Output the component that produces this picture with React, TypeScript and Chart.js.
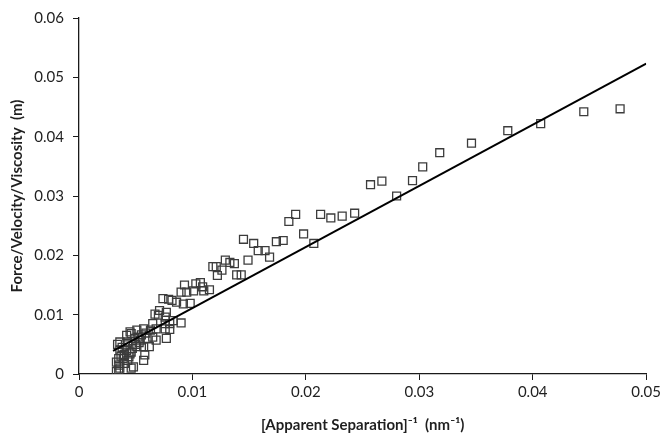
import React, { useEffect, useRef } from 'react';
import { Chart, registerables } from 'chart.js';

Chart.register(...registerables);

// [Apparent Separation]^-1 (nm^-1)
const sepX: number[] = [
  0.0477, 0.0445, 0.0407, 0.0378, 0.0346, 0.0318, 0.0303, 0.0294, 0.0280, 0.0267,
  0.0257, 0.0243, 0.0232, 0.0222, 0.0213,
  0.0191, 0.0185, 0.0198, 0.0207, 0.0180, 0.0174, 0.0145, 0.0154, 0.0158, 0.0164,
  0.0168, 0.0149, 0.0129, 0.0133, 0.0137, 0.0118, 0.0121, 0.0126, 0.0122, 0.0139,
  0.0143, 0.0107, 0.0103, 0.0093, 0.0109, 0.0101, 0.0115, 0.0110, 0.0095, 0.0090,
  0.0098, 0.0092,
  0.0074, 0.0079, 0.0082, 0.0086, 0.0071, 0.0077, 0.0076, 0.0067, 0.0070, 0.0090,
  0.0083, 0.0080, 0.0076, 0.0065, 0.0076, 0.0068, 0.0063, 0.0057, 0.0051, 0.0045,
  0.0080, 0.0077, 0.0065, 0.0052, 0.0068, 0.0042, 0.0046, 0.0060, 0.0054, 0.0043,
  0.0036, 0.0051, 0.0057, 0.0062, 0.0036, 0.0042, 0.0046, 0.0058, 0.0057, 0.0035,
  0.0039, 0.0043, 0.0048, 0.0046, 0.0035, 0.0040, 0.0035, 0.0033,
  0.0034, 0.0038, 0.0040, 0.0037, 0.0044, 0.0047, 0.0050, 0.0053, 0.0049, 0.0055,
  0.0059, 0.0033, 0.0036, 0.0041, 0.0045,
];

// Force/Velocity/Viscosity (m)
const forceY: number[] = [
  0.0447, 0.0442, 0.0422, 0.0410, 0.0389, 0.0373, 0.0349, 0.0326, 0.0300, 0.0325,
  0.0319, 0.0271, 0.0266, 0.0263, 0.0269,
  0.0269, 0.0257, 0.0236, 0.0220, 0.0225, 0.0223, 0.0227, 0.0220, 0.0208, 0.0208,
  0.0197, 0.0192, 0.0192, 0.0188, 0.0186, 0.0181, 0.0181, 0.0175, 0.0166, 0.0167,
  0.0167, 0.0154, 0.0152, 0.0150, 0.0147, 0.0140, 0.0142, 0.0140, 0.0138, 0.0138,
  0.0119, 0.0118,
  0.0127, 0.0126, 0.0124, 0.0121, 0.0107, 0.0104, 0.0096, 0.0101, 0.0099, 0.0086,
  0.0090, 0.0085, 0.0085, 0.0085, 0.0076, 0.0076, 0.0074, 0.0076, 0.0074, 0.0071,
  0.0075, 0.0060, 0.0062, 0.0062, 0.0057, 0.0065, 0.0068, 0.0060, 0.0057, 0.0054,
  0.0054, 0.0046, 0.0046, 0.0046, 0.0040, 0.0040, 0.0037, 0.0032, 0.0023, 0.0026,
  0.0026, 0.0023, 0.0012, 0.0010, 0.0015, 0.0018, 0.0007, 0.0004,
  0.0050, 0.0045, 0.0033, 0.0030, 0.0029, 0.0043, 0.0050, 0.0053, 0.0060, 0.0066,
  0.0069, 0.0020, 0.0010, 0.0049, 0.0034,
];

// Linear fit line end points
const trendX: number[] = [0.003, 0.05];
const trendY: number[] = [0.0039, 0.0523];

const xTickValues: number[] = [0, 0.01, 0.02, 0.03, 0.04, 0.05];
const xTickLabels: string[] = ['0', '0.01', '0.02', '0.03', '0.04', '0.05'];
const yTickValues: number[] = [0, 0.01, 0.02, 0.03, 0.04, 0.05, 0.06];
const yTickLabels: string[] = ['0', '0.01', '0.02', '0.03', '0.04', '0.05', '0.06'];

const xTitle = '[Apparent Separation]\u207B\u00B9  (nm\u207B\u00B9)';
const yTitle = 'Force/Velocity/Viscosity  (m)';

const FONT = 'Lato, "Open Sans", sans-serif';
const AXIS = '#1a1a1a';
const TEXT = '#1f1f1f';

export default function App() {
  const ref = useRef<HTMLCanvasElement | null>(null);

  useEffect(() => {
    if (!ref.current) return;
    const points = sepX.map((x, i) => ({ x, y: forceY[i] }));
    const line = trendX.map((x, i) => ({ x, y: trendY[i] }));

    const chart = new Chart(ref.current, {
      type: 'scatter',
      data: {
        datasets: [
          {
            type: 'line',
            label: 'fit',
            data: line,
            borderColor: '#000',
            borderWidth: 2,
            pointRadius: 0,
            fill: false,
            order: 0,
          } as any,
          {
            label: 'data',
            data: points,
            pointStyle: 'rect',
            pointRadius: 5.6,
            pointBorderColor: '#3c3c3c',
            pointBackgroundColor: 'rgba(0,0,0,0)',
            pointBorderWidth: 1.3,
            order: 1,
          },
        ],
      },
      options: {
        responsive: false,
        animation: false,
        layout: { padding: { left: 0, right: 17, top: 15, bottom: 0 } },
        plugins: { legend: { display: false }, tooltip: { enabled: false } },
        scales: {
          x: {
            type: 'linear',
            min: 0,
            max: 0.05,
            afterBuildTicks: (s: any) => {
              s.ticks = xTickValues.map((v) => ({ value: v }));
            },
            afterFit: (s: any) => {
              s.height = 66;
            },
            ticks: {
              color: TEXT,
              font: { family: FONT, size: 15 },
              padding: 3,
              maxRotation: 0,
              callback: (_v: any, i: number) => xTickLabels[i],
            },
            grid: {
              display: true,
              drawOnChartArea: false,
              drawTicks: true,
              tickLength: 6,
              tickColor: AXIS,
              color: AXIS,
            },
            border: { display: true, color: AXIS, width: 1.3 },
            title: {
              display: true,
              text: xTitle,
              color: TEXT,
              font: { family: FONT, size: 15, weight: 'bold' },
              padding: { top: 0, bottom: 6 },
            },
          },
          y: {
            type: 'linear',
            min: 0,
            max: 0.06,
            afterBuildTicks: (s: any) => {
              s.ticks = yTickValues.map((v) => ({ value: v }));
            },
            afterFit: (s: any) => {
              s.width = 79;
            },
            ticks: {
              color: TEXT,
              font: { family: FONT, size: 15 },
              padding: 9,
              callback: (_v: any, i: number) => yTickLabels[i],
            },
            grid: {
              display: true,
              drawOnChartArea: false,
              drawTicks: true,
              tickLength: 6,
              tickColor: AXIS,
              color: AXIS,
            },
            border: { display: true, color: AXIS, width: 1.3 },
            title: {
              display: true,
              text: yTitle,
              color: TEXT,
              font: { family: FONT, size: 15, weight: 'bold' },
              padding: { top: 8, bottom: 0 },
            },
          },
        },
      },
    });
    return () => chart.destroy();
  }, []);

  return (
    <div style={{ position: 'fixed', left: 0, top: 0, width: 664, height: 440, background: '#fff' }}>
      <canvas ref={ref} width={664} height={440} style={{ display: 'block', width: 664, height: 440 }} />
    </div>
  );
}
